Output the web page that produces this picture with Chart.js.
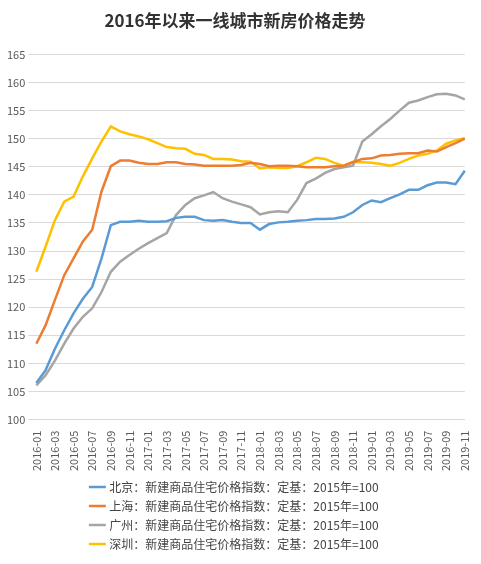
<!DOCTYPE html>
<html><head><meta charset="utf-8">
<script src="https://cdn.jsdelivr.net/npm/chart.js@4"></script>
<style>body{margin:0;background:#fff}#w{width:481px;height:564px}</style>
</head><body><div id="w"><canvas id="c"></canvas></div>
<script>
const months=[];
for(let y=2016;y<=2019;y++)for(let m=1;m<=12;m++){if(y===2019&&m>11)break;months.push(y+'-'+String(m).padStart(2,'0'));}
const beijing=[106.5,108.8,112.6,115.9,118.9,121.5,123.6,128.7,134.6,135.2,135.2,135.4,135.2,135.2,135.3,135.9,136.1,136.1,135.5,135.4,135.5,135.2,135.0,135.0,133.8,134.8,135.1,135.2,135.4,135.5,135.7,135.7,135.8,136.1,136.9,138.2,139.0,138.7,139.4,140.1,140.9,140.9,141.7,142.2,142.2,141.9,144.3];
const shanghai=[113.5,116.8,121.3,125.7,128.7,131.7,133.8,140.6,145.1,146.1,146.1,145.7,145.5,145.5,145.8,145.8,145.5,145.4,145.2,145.2,145.2,145.2,145.3,145.7,145.5,145.1,145.2,145.2,145.1,144.9,144.9,144.9,145.1,145.2,145.8,146.4,146.5,147.0,147.1,147.3,147.4,147.4,147.9,147.7,148.5,149.2,150.0];
const guangzhou=[106.1,107.9,110.5,113.5,116.2,118.3,119.8,122.7,126.3,128.1,129.3,130.4,131.4,132.3,133.2,136.4,138.2,139.4,139.9,140.5,139.4,138.8,138.3,137.8,136.5,136.9,137.1,136.9,139.1,142.1,142.9,143.9,144.6,144.9,145.2,149.5,150.8,152.2,153.5,155.0,156.4,156.8,157.4,157.9,158.0,157.7,157.0];
const shenzhen=[126.3,130.8,135.5,138.8,139.7,143.3,146.5,149.5,152.2,151.3,150.8,150.4,149.9,149.2,148.5,148.3,148.2,147.3,147.1,146.4,146.4,146.3,146.0,145.9,144.7,144.9,144.8,144.8,145.1,145.8,146.6,146.4,145.7,145.2,145.9,145.8,145.7,145.5,145.2,145.7,146.4,147.0,147.3,147.9,149.1,149.7,150.1];
const names=['北京：新建商品住宅价格指数：定基：2015年=100','上海：新建商品住宅价格指数：定基：2015年=100','广州：新建商品住宅价格指数：定基：2015年=100','深圳：新建商品住宅价格指数：定基：2015年=100'];
const colors=['#5B9BD5','#ED7D31','#A5A5A5','#FFC000'];
const series=[beijing,shanghai,guangzhou,shenzhen];
const font='"Microsoft YaHei","Noto Sans CJK SC",sans-serif';
new Chart(document.getElementById('c'),{type:'line',
data:{labels:months,datasets:series.map((d,i)=>({label:names[i],data:d,borderColor:colors[i],backgroundColor:colors[i],borderWidth:2.5,pointRadius:0,tension:0}))},
options:{responsive:true,maintainAspectRatio:false,animation:false,
layout:{padding:{left:4,right:15,top:6,bottom:4}},
plugins:{title:{display:true,text:'2016年以来一线城市新房价格走势',color:'#333',font:{family:font,size:17,weight:'bold'},padding:{top:4,bottom:24}},
legend:{position:'bottom',labels:{usePointStyle:true,pointStyle:'line',boxWidth:26,color:'#444',font:{family:font,size:12},padding:7}},tooltip:{enabled:false}},
scales:{x:{grid:{display:false},border:{color:'#d9d9d9'},ticks:{autoSkip:false,maxRotation:90,minRotation:90,color:'#595959',font:{family:font,size:11},callback:function(v,i){return i%2===0?this.getLabelForValue(v):'';}}},
y:{min:100,max:165,border:{display:false},grid:{color:'#d9d9d9'},ticks:{stepSize:5,color:'#595959',font:{family:font,size:11}}}}}});
</script></body></html>
